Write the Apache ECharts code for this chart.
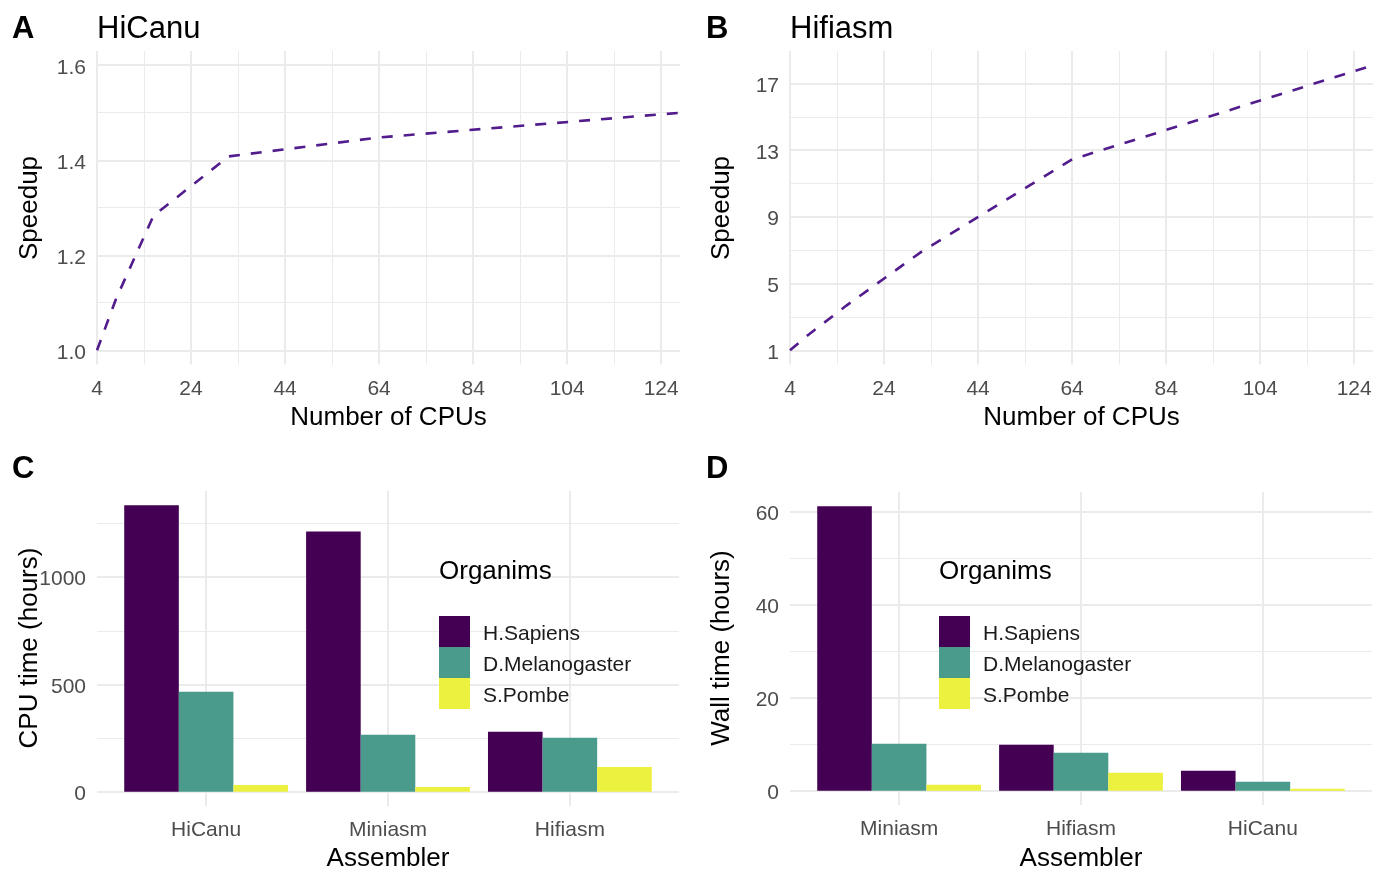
<!DOCTYPE html>
<html><head><meta charset="utf-8">
<script src="https://cdn.jsdelivr.net/npm/echarts@6/dist/echarts.min.js"></script>
<style>html,body{margin:0;padding:0;background:#fff}#c{width:1386px;height:870px}</style>
</head><body><div id="c"></div>
<script>
// ---- data ----
const cpus = [4, 8, 16, 32, 64, 128];
const speedupHiCanu = [1.0, 1.107, 1.283, 1.408, 1.448, 1.50];
const speedupHifiasm = [1.0, 1.95, 3.68, 6.92, 12.45, 18.1];
const cpuTicks = [4, 24, 44, 64, 84, 104, 124];
const cpuMinorTicks = [14, 34, 54, 74, 94, 114];
const hicanuTicks = [1.0, 1.2, 1.4, 1.6];
const hicanuMinorTicks = [1.1, 1.3, 1.5];
const hifiasmTicks = [1, 5, 9, 13, 17];
const hifiasmMinorTicks = [3, 7, 11, 15];

const organisms = ['H.Sapiens', 'D.Melanogaster', 'S.Pombe'];
const cpuAssemblers = ['HiCanu', 'Miniasm', 'Hifiasm'];
const cpuHSapiens = [1335, 1213, 279];
const cpuDMelanogaster = [466, 265, 251];
const cpuSPombe = [31, 22, 115];
const cpuTimeTicks = [0, 500, 1000];
const cpuTimeMinorTicks = [250, 750, 1250];

const wallAssemblers = ['Miniasm', 'Hifiasm', 'HiCanu'];
const wallHSapiens = [61.2, 9.88, 4.3];
const wallDMelanogaster = [10.1, 8.16, 1.93];
const wallSPombe = [1.29, 3.87, 0.43];
const wallTimeTicks = [0, 20, 40, 60];
const wallTimeMinorTicks = [10, 30, 50];

// ---- styling ----
const FONT = "'Liberation Sans', Arial, Helvetica, sans-serif";
const GRID_C = '#EBEBEB';
const colors = ['#440154', '#4A9B8B', '#ECF140'];
const lineColor = '#521C8D';

const grids = [
  {left: 97, top: 51, width: 583, height: 313.5},
  {left: 790, top: 51, width: 583, height: 313.5},
  {left: 97, top: 491, width: 582, height: 315},
  {left: 790, top: 492, width: 582, height: 313}
];

const xAxes = [], yAxes = [];
function addAxes(list, gridIndex, min, max, major, minor, fmt, isX) {
  const base = {
    type: 'value', gridIndex, min, max,
    axisLine: {show: false},
    axisTick: {show: false},
  };
  const label = {show: true, customValues: major, formatter: fmt,
    color: '#4D4D4D', fontSize: 21, fontFamily: FONT, margin: isX ? 14 : 11};
  if (!isX) { label.verticalAlign = 'top'; label.lineHeight = 5; }
  list.push(Object.assign({}, base, {
    axisTick: {show: false, customValues: major},
    axisLabel: label,
    splitLine: {show: true, lineStyle: {color: GRID_C, width: 2}}
  }));
  list.push(Object.assign({}, base, {
    axisTick: {show: false, customValues: minor.length ? minor : [min - 1]},
    axisLabel: {show: false, customValues: minor.length ? minor : [min - 1]},
    splitLine: {show: minor.length > 0, lineStyle: {color: GRID_C, width: 1}}
  }));
}
const intFmt = v => String(Math.round(v));
// panel A
addAxes(xAxes, 0, 4, 128, cpuTicks, cpuMinorTicks, intFmt, true);
addAxes(yAxes, 0, 0.97, 1.63, hicanuTicks, hicanuMinorTicks, v => v.toFixed(1), false);
// panel B
addAxes(xAxes, 1, 4, 128, cpuTicks, cpuMinorTicks, intFmt, true);
addAxes(yAxes, 1, 0.145, 18.955, hifiasmTicks, hifiasmMinorTicks, intFmt, false);
// panel C
addAxes(xAxes, 2, 0.4, 3.6, [1, 2, 3], [], v => cpuAssemblers[Math.round(v) - 1], true);
addAxes(yAxes, 2, -66.75, 1401.75, cpuTimeTicks, cpuTimeMinorTicks, intFmt, false);
// panel D
addAxes(xAxes, 3, 0.4, 3.6, [1, 2, 3], [], v => wallAssemblers[Math.round(v) - 1], true);
addAxes(yAxes, 3, -3.06, 64.26, wallTimeTicks, wallTimeMinorTicks, intFmt, false);

const zip = (xs, ys) => xs.map((x, i) => [x, ys[i]]);
const lineSeries = (ys, p) => ({
  type: 'line', xAxisIndex: 2 * p, yAxisIndex: 2 * p,
  data: zip(cpus, ys), showSymbol: false, symbol: 'none', silent: true,
  lineStyle: {color: lineColor, width: 2.6, type: [11, 11], cap: 'butt'}
});
const barSeries = (name, vals, p, ci) => ({
  type: 'bar', name, xAxisIndex: 2 * p, yAxisIndex: 2 * p,
  data: vals.map((v, i) => [i + 1, v]),
  barWidth: 54.6, barGap: '0%',
  itemStyle: {color: colors[ci]}, silent: true
});

const series = [
  lineSeries(speedupHiCanu, 0),
  lineSeries(speedupHifiasm, 1),
  barSeries(organisms[0], cpuHSapiens, 2, 0),
  barSeries(organisms[1], cpuDMelanogaster, 2, 1),
  barSeries(organisms[2], cpuSPombe, 2, 2),
  barSeries(organisms[0], wallHSapiens, 3, 0),
  barSeries(organisms[1], wallDMelanogaster, 3, 1),
  barSeries(organisms[2], wallSPombe, 3, 2)
];

const legendBase = {
  data: organisms, orient: 'vertical', itemWidth: 31, itemHeight: 31, itemGap: 0,
  icon: 'rect', selectedMode: false, padding: 0,
  formatter: name => '{t|' + name + '}',
  textStyle: {fontSize: 21, color: '#1A1A1A', fontFamily: FONT,
    rich: {t: {fontSize: 21, color: '#1A1A1A', fontFamily: FONT, padding: [6, 0, 0, 8]}}}
};

function txt(text, x, y, size, opts) {
  return Object.assign({
    type: 'text', x, y, silent: true, z: 100,
    style: Object.assign({text, fontSize: size, fontFamily: FONT, fill: '#000',
      textAlign: 'left', textVerticalAlign: 'middle'}, (opts && opts.style) || {})
  }, (opts && opts.el) || {});
}
const center = {style: {textAlign: 'center'}};
const rot = {style: {textAlign: 'center'}, el: {rotation: Math.PI / 2}};
const bold = {style: {fontWeight: 'bold'}};

const graphic = [
  txt('A', 12, 29, 31, bold), txt('B', 706, 29, 31, bold),
  txt('C', 12, 469, 31, bold), txt('D', 706, 469, 31, bold),
  txt('HiCanu', 97, 29, 31), txt('Hifiasm', 790, 29, 31),
  txt('Number of CPUs', 388.5, 418, 26, center),
  txt('Number of CPUs', 1081.5, 418, 26, center),
  txt('Assembler', 388, 859, 26, center),
  txt('Assembler', 1081, 859, 26, center),
  txt('Speedup', 30, 208, 26, rot),
  txt('Speedup', 722, 208, 26, rot),
  txt('CPU time (hours)', 30, 648, 26, rot),
  txt('Wall time (hours)', 722, 648, 26, rot),
  txt('Organims', 439, 572, 26),
  txt('Organims', 939, 572, 26)
];

const chart = echarts.init(document.getElementById('c'), null, {renderer: 'canvas'});
chart.setOption({
  animation: false,
  backgroundColor: '#fff',
  textStyle: {fontFamily: FONT},
  grid: grids,
  xAxis: xAxes,
  yAxis: yAxes,
  legend: [
    Object.assign({}, legendBase, {left: 439, top: 616}),
    Object.assign({}, legendBase, {left: 939, top: 616})
  ],
  series,
  graphic
});
</script></body></html>
